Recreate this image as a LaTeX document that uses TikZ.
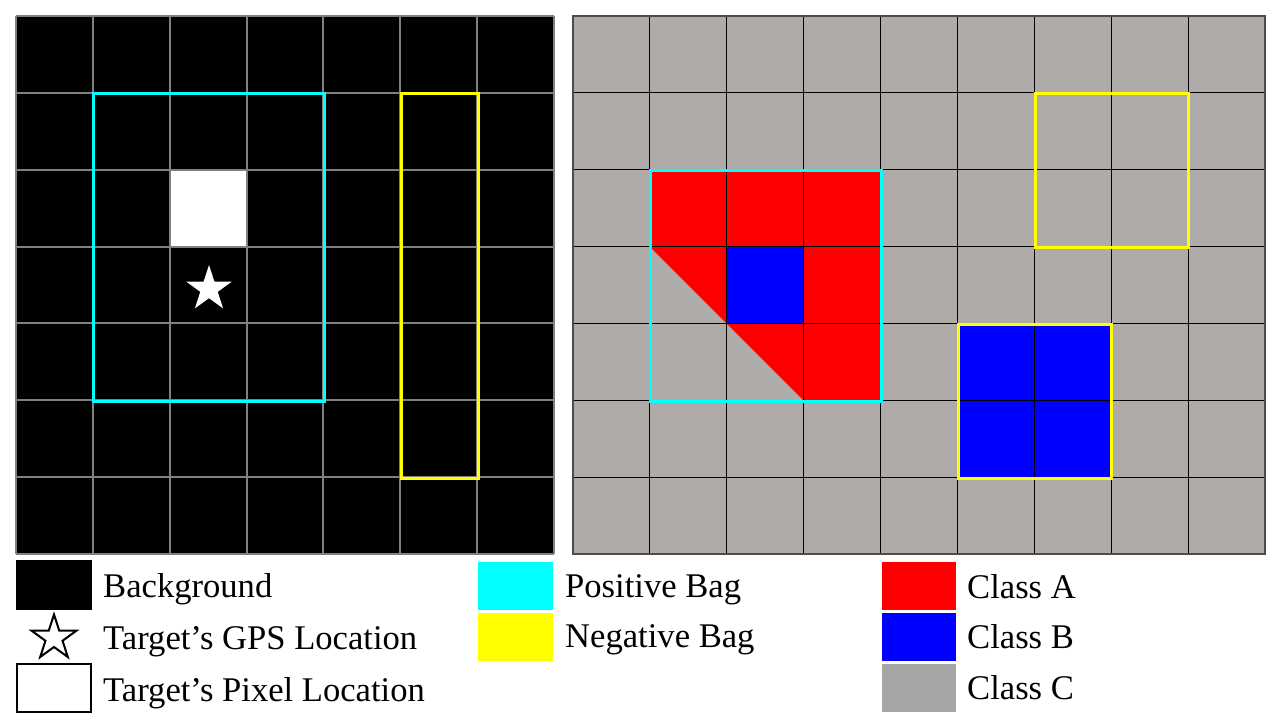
\documentclass[tikz,border=0pt]{standalone}
\usepackage{fontspec}
\setmainfont{Liberation Serif}
\usetikzlibrary{shapes.geometric}
\definecolor{gridgrey}{RGB}{175,171,169}
\definecolor{classc}{RGB}{166,166,166}
\definecolor{lgline}{RGB}{128,128,128}
\definecolor{bagcyan}{RGB}{0,255,255}
\definecolor{bagyellow}{RGB}{255,255,0}
\begin{document}
\begin{tikzpicture}[x=1pt,y=-1pt,
  lbl/.style={anchor=base west,inner sep=0pt,font=\fontsize{34.6}{40}\selectfont},
  bagline/.style={line width=3pt},
  starshape/.style={star,star points=5,star point ratio=2.618,inner sep=0pt,minimum size=#1}]
\useasboundingbox (0,0) rectangle (1280,720);
% ---------- left grid ----------
\fill[black] (16,16) rectangle (554,554);
\fill[white] (170,170) rectangle (247,247);
\foreach \i in {0,...,7}{
  \draw[lgline,line width=2pt] ({16+\i*76.857},16) -- ({16+\i*76.857},554);
  \draw[lgline,line width=2pt] (16,{16+\i*76.857}) -- (554,{16+\i*76.857});
}
\draw[bagcyan,bagline] (93,93) rectangle (324,401);
\draw[bagyellow,bagline] (401,93) rectangle (478,478);
\node[starshape=48pt,fill=white] (gps) at (209,289) {};
% ---------- right grid ----------
\fill[gridgrey] (573,16) rectangle (1265,554);
\fill[red] (650,170) -- (881,170) -- (881,401) -- (804,401) -- (650,247) -- cycle;
\fill[blue] (727,247) rectangle (804,324);
\fill[blue] (958,324) rectangle (1111,478);
\foreach \i in {1,...,8}{
  \draw[black,line width=1.2pt] ({573+\i*76.889},16) -- ({573+\i*76.889},554);
}
\foreach \i in {1,...,6}{
  \draw[black,line width=1.2pt] (573,{16+\i*76.857}) -- (1265,{16+\i*76.857});
}
\draw[black!70,line width=1.5pt] (573,16) rectangle (1265,554);
\draw[bagcyan,bagline] (650,170) rectangle (881,401);
\draw[bagyellow,bagline] (1035,93) rectangle (1188,247);
\draw[bagyellow,bagline] (958,324) rectangle (1111,478);
% ---------- legend ----------
\fill[black] (16,560) rectangle (92,610);
\node[starshape=47pt,draw=black,line width=2pt,fill=white] (gpskey) at (54,638) {};
\draw[black,line width=2.5pt,fill=white] (17,664) rectangle (91,712);
\node[lbl] (tbg) at (103,597) {Background};
\node[lbl] (tgps) at (103,649) {Target’s GPS Location};
\node[lbl] (tpix) at (103,701) {Target’s Pixel Location};
\fill[bagcyan] (478,562) rectangle (553,610);
\fill[bagyellow] (478,613) rectangle (553,661);
\node[lbl] (tpos) at (565,597) {Positive Bag};
\node[lbl] (tneg) at (565,647) {Negative Bag};
\fill[red] (882,562) rectangle (956,610);
\fill[blue] (882,613) rectangle (956,661);
\fill[classc] (882,664) rectangle (956,712);
\node[lbl] (ta) at (967,598) {Class A};
\node[lbl] (tb) at (967,648) {Class B};
\node[lbl] (tc) at (967,699) {Class C};
\end{tikzpicture}
\end{document}
